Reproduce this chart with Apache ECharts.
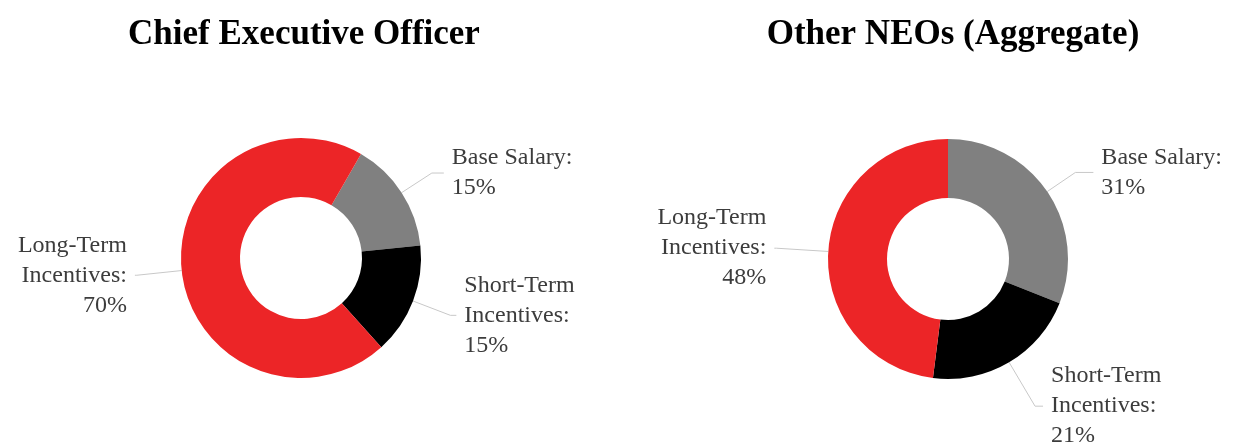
<!DOCTYPE html>
<html>
<head>
<meta charset="utf-8">
<script src="https://cdn.jsdelivr.net/npm/echarts@6/dist/echarts.min.js"></script>
<style>
html, body { margin: 0; padding: 0; background: #fff; }
#main { width: 1244px; height: 442px; }
</style>
</head>
<body>
<div id="main"></div>
<script>
var titles = ['Chief Executive Officer', 'Other NEOs (Aggregate)'];
var categories = ['Base Salary', 'Short-Term Incentives', 'Long-Term Incentives'];
var labelNames = ['Base Salary:', 'Short-Term\nIncentives:', 'Long-Term\nIncentives:'];
var ceoValues = [15, 15, 70];
var neoValues = [31, 21, 48];
var colors = ['#808080', '#000000', '#ec2527'];

// label line lengths per slice (length, length2)
var ceoLines = [[36, 12], [40, 6], [45, 2]];
var neoLines = [[34, 18], [51, 8], [52, 2]];

var buildData = function (values, lines) {
    var out = [];
    for (var i = 0; i < values.length; i++) {
        out.push({
            name: categories[i],
            value: values[i],
            label: { formatter: labelNames[i] + '\n' + values[i] + '%' },
            labelLine: { length: lines[i][0], length2: lines[i][1] }
        });
    }
    return out;
};

var baseSeries = function (center, startAngle, data) {
    return {
        type: 'pie',
        center: center,
        radius: [61, 120],
        startAngle: startAngle,
        clockwise: true,
        avoidLabelOverlap: false,
        silent: true,
        itemStyle: { borderWidth: 0 },
        label: {
            show: true,
            position: 'outside',
            color: '#3c3c3c',
            fontFamily: 'Liberation Serif',
            fontSize: 24,
            lineHeight: 30,
            distanceToLabelLine: 8
        },
        labelLine: {
            show: true,
            lineStyle: { color: '#c8c8c8', width: 1 }
        },
        data: data
    };
};

var myChart = echarts.init(document.getElementById('main'));
var option = {
    animation: false,
    color: colors,
    title: [{
        text: titles[0],
        left: 299,
        top: 12,
        textAlign: 'center',
        textStyle: { fontFamily: 'Liberation Serif', fontWeight: 'bold', fontSize: 35, color: '#000' }
    }, {
        text: titles[1],
        left: 948,
        top: 12,
        textAlign: 'center',
        textStyle: { fontFamily: 'Liberation Serif', fontWeight: 'bold', fontSize: 35, color: '#000' }
    }],
    series: [
        baseSeries([301, 258], 60, buildData(ceoValues, ceoLines)),
        baseSeries([948, 259], 90, buildData(neoValues, neoLines))
    ]
};
myChart.setOption(option);
</script>
</body>
</html>
